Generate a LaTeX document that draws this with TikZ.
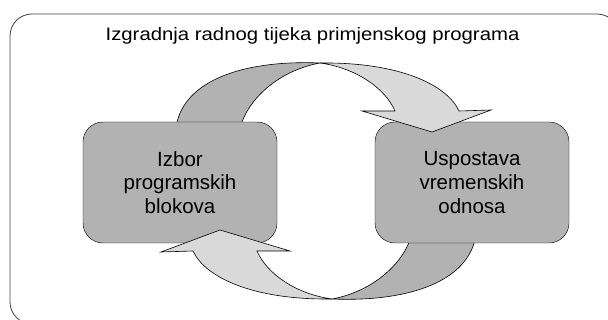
\documentclass[tikz,border=0pt]{standalone}
\usepackage{fontspec}
\setmainfont{Liberation Sans}
\definecolor{blockfill}{RGB}{178,178,178}
\definecolor{arrowfill}{RGB}{217,217,217}
\definecolor{framegray}{RGB}{64,64,64}

\tikzset{
  block/.style={draw, fill=blockfill, rounded corners=20pt, minimum width=194pt, minimum height=121pt, align=center, font=\fontsize{20.5}{23.7}\selectfont},
  bandback/.style={draw, fill=blockfill, line width=0.6pt},
  bandfront/.style={draw, fill=arrowfill, line width=0.6pt}
}

\begin{document}
\begin{tikzpicture}[x=1pt, y=-1pt]
  \useasboundingbox (0,0) rectangle (608,320);

  % Outer frame
  \draw[framegray, line width=0.8pt, rounded corners=22pt] (10,14) rectangle (619,324);

  % Title
  \node[font=\fontsize{18}{22}\selectfont, anchor=base] (title) at (312.5,40.7) {\scalebox{1.13}[1]{Izgradnja radnog tijeka primjenskog programa}};

  % Back halves of the cycle arrows
  \foreach \r in {0,180} {
    \begin{scope}[rotate around={\r:(326,181)}]
      \draw[bandback] (177,132) -- (177,122) .. controls (188,78) and (248,60) .. (320,63)
        .. controls (282,70) and (252,95) .. (242,122) -- (242,132) -- cycle;
    \end{scope}
  }

  % Blocks
  \node[block] (blocks) at (180,182.5) {Izbor\\programskih\\blokova};
  \node[block] (timing) at (472,182.5) {Uspostava\\vremenskih\\odnosa};

  % Front halves with heads
  \foreach \r in {0,180} {
    \begin{scope}[rotate around={\r:(326,181)}]
      \draw[bandfront] (320,63) .. controls (400,62) and (447,85) .. (459,111) -- (491,110)
        -- (432,132) -- (362,111) -- (395,111) .. controls (385,88) and (356,68) .. (320,63) -- cycle;
    \end{scope}
  }
\end{tikzpicture}
\end{document}
